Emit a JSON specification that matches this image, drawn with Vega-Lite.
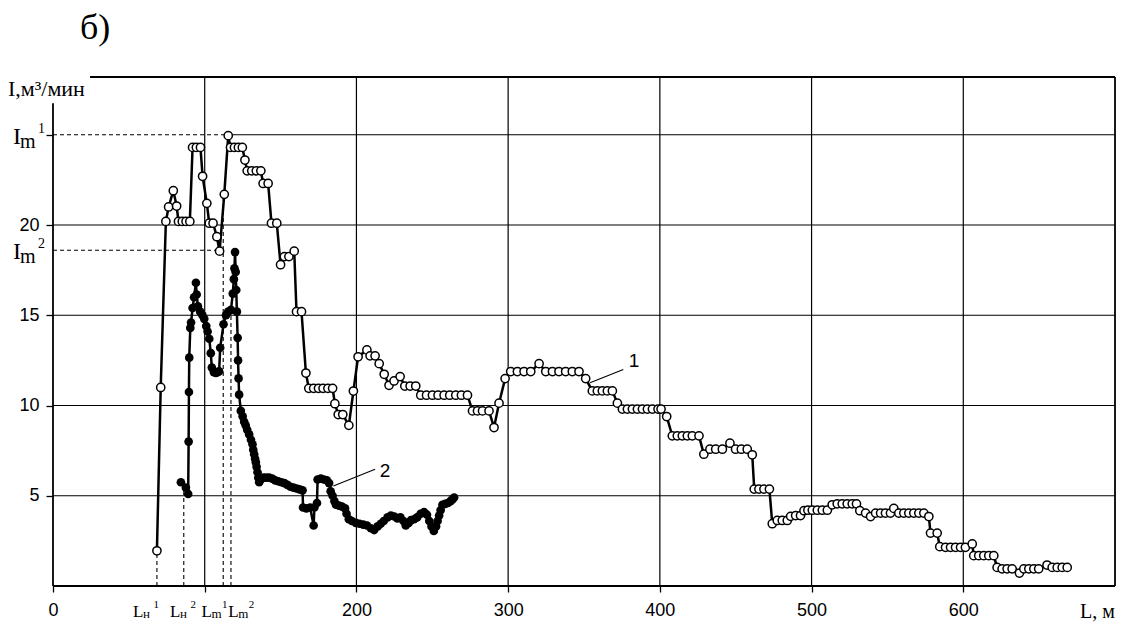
{
  "$schema": "https://vega.github.io/schema/vega-lite/v6.json",
  "width": 1062,
  "height": 509,
  "autosize": "none",
  "padding": {"left": 53, "top": 77, "right": 7, "bottom": 41},
  "background": "white",
  "config": {"view": {"stroke": null}, "font": "Liberation Sans"},
  "datasets": {
    "curve1": [
      {"L":68.5,"I":1.95},{"L":71,"I":11.0},{"L":74.4,"I":20.2},{"L":76.2,"I":21.0},{"L":79.3,"I":21.9},{"L":81.5,"I":21.05},{"L":82.7,"I":20.2},{"L":85.2,"I":20.2},{"L":87.7,"I":20.2},{"L":90.2,"I":20.2},
      {"L":92,"I":24.3},{"L":94.5,"I":24.3},{"L":97.2,"I":24.3},{"L":98.6,"I":22.7},{"L":101.4,"I":21.2},{"L":103,"I":20.1},{"L":105.5,"I":20.1},{"L":108,"I":19.35},{"L":109.8,"I":18.55},{"L":112.9,"I":21.7},
      {"L":115.5,"I":24.95},{"L":117,"I":24.3},{"L":119.6,"I":24.3},{"L":122.2,"I":24.3},{"L":124.8,"I":24.3},{"L":126.5,"I":23.6},{"L":128,"I":23.0},{"L":131,"I":23.0},{"L":134,"I":23.0},{"L":137,"I":23.0},
      {"L":138.5,"I":22.3},{"L":141.8,"I":22.3},{"L":144,"I":20.1},{"L":147.5,"I":20.1},{"L":150,"I":17.8},{"L":152.5,"I":18.25},{"L":155.5,"I":18.25},{"L":159,"I":18.55},{"L":160.5,"I":15.2},{"L":163.8,"I":15.2},
      {"L":166.7,"I":11.8},{"L":168.6,"I":10.95},{"L":171.8,"I":10.95},{"L":175,"I":10.95},{"L":178,"I":10.95},{"L":181.2,"I":10.95},{"L":184.3,"I":10.95},{"L":185.8,"I":10.1},{"L":188,"I":9.5},{"L":191,"I":9.5},
      {"L":195,"I":8.9},{"L":198,"I":10.8},{"L":201.1,"I":12.7},{"L":206.9,"I":13.08},{"L":209,"I":12.75},{"L":212.3,"I":12.75},{"L":215,"I":12.32},{"L":218.3,"I":11.73},{"L":221.5,"I":11.12},{"L":224.8,"I":11.36},
      {"L":228.8,"I":11.6},{"L":231.9,"I":11.08},{"L":235.4,"I":11.08},{"L":239.1,"I":11.08},{"L":242.4,"I":10.57},{"L":246.2,"I":10.57},{"L":250.1,"I":10.57},{"L":253.8,"I":10.57},{"L":257.8,"I":10.57},{"L":261.5,"I":10.57},
      {"L":265.5,"I":10.57},{"L":269.2,"I":10.57},{"L":273.2,"I":10.57},{"L":276.5,"I":9.7},{"L":279.8,"I":9.7},{"L":283.1,"I":9.7},{"L":287.4,"I":9.7},{"L":290.7,"I":8.78},{"L":294,"I":10.13},{"L":298,"I":11.49},
      {"L":301.7,"I":11.88},{"L":306.1,"I":11.88},{"L":310.5,"I":11.88},{"L":314.9,"I":11.88},{"L":320.4,"I":12.32},{"L":324.8,"I":11.88},{"L":329.2,"I":11.88},{"L":333.5,"I":11.88},{"L":337.9,"I":11.88},{"L":342.3,"I":11.88},
      {"L":346.7,"I":11.88},{"L":351.1,"I":11.49},{"L":355.5,"I":10.81},{"L":358.8,"I":10.81},{"L":362.1,"I":10.81},{"L":365.4,"I":10.81},{"L":368.7,"I":10.81},{"L":372,"I":10.13},{"L":375.3,"I":9.8},{"L":378.6,"I":9.8},
      {"L":381.9,"I":9.8},{"L":385.2,"I":9.8},{"L":388.5,"I":9.8},{"L":391.8,"I":9.8},{"L":395.1,"I":9.8},{"L":398.8,"I":9.8},{"L":400.8,"I":9.8},{"L":404.5,"I":9.39},{"L":408.2,"I":8.32},{"L":411.5,"I":8.32},
      {"L":414.8,"I":8.32},{"L":418.1,"I":8.32},{"L":421.4,"I":8.32},{"L":425.8,"I":8.32},{"L":429,"I":7.3},{"L":433,"I":7.58},{"L":436.8,"I":7.58},{"L":441.2,"I":7.58},{"L":446.2,"I":7.91},{"L":449.9,"I":7.58},
      {"L":453.7,"I":7.58},{"L":457.6,"I":7.58},{"L":460.9,"I":7.27},{"L":462.2,"I":5.37},{"L":465.3,"I":5.37},{"L":468.6,"I":5.37},{"L":472.2,"I":5.37},{"L":474.1,"I":3.45},{"L":477.4,"I":3.63},{"L":480.7,"I":3.63},
      {"L":484,"I":3.63},{"L":486.2,"I":3.86},{"L":489.5,"I":3.9},{"L":492.7,"I":3.9},{"L":495,"I":4.17},{"L":497.6,"I":4.2},{"L":500.5,"I":4.2},{"L":503.8,"I":4.2},{"L":507.1,"I":4.2},{"L":510.4,"I":4.2},
      {"L":513.6,"I":4.5},{"L":516.9,"I":4.55},{"L":520.2,"I":4.55},{"L":523.5,"I":4.55},{"L":526.8,"I":4.55},{"L":529.6,"I":4.55},{"L":531.8,"I":4.17},{"L":535.6,"I":4.04},{"L":538.9,"I":3.85},{"L":542.2,"I":4.04},
      {"L":545.5,"I":4.04},{"L":548.7,"I":4.04},{"L":552,"I":4.04},{"L":554.2,"I":4.3},{"L":557.5,"I":4.04},{"L":560.8,"I":4.04},{"L":564.1,"I":4.04},{"L":567.4,"I":4.04},{"L":570.7,"I":4.04},{"L":574,"I":4.04},
      {"L":577.3,"I":3.85},{"L":578.4,"I":2.93},{"L":582.8,"I":2.93},{"L":584.5,"I":2.18},{"L":588.3,"I":2.14},{"L":591.6,"I":2.14},{"L":594.9,"I":2.14},{"L":598.2,"I":2.14},{"L":601.4,"I":2.14},{"L":605.9,"I":2.33},
      {"L":606.9,"I":1.68},{"L":610.2,"I":1.68},{"L":613.5,"I":1.68},{"L":616.8,"I":1.68},{"L":620.1,"I":1.68},{"L":622.3,"I":1.03},{"L":625.6,"I":0.95},{"L":628.9,"I":0.95},{"L":632.2,"I":0.95},{"L":637,"I":0.72},
      {"L":639.9,"I":0.95},{"L":643.2,"I":0.95},{"L":646.5,"I":0.95},{"L":649.7,"I":0.95},{"L":655.2,"I":1.16},{"L":658.6,"I":1.03},{"L":661.9,"I":1.03},{"L":665.2,"I":1.03},{"L":668.5,"I":1.03}
    ],
    "curve2": [
      {"L":84.3,"I":5.75},{"L":87.6,"I":5.45},{"L":89.1,"I":5.1},{"L":89.4,"I":8.0},{"L":89.6,"I":10.75},{"L":89.8,"I":12.65},{"L":90.5,"I":14.3},{"L":91,"I":14.6},{"L":92,"I":15.4},{"L":93,"I":16.0},
      {"L":94.2,"I":16.8},{"L":94.7,"I":16.15},{"L":95.5,"I":15.5},{"L":97,"I":15.2},{"L":98.5,"I":15.0},{"L":99.7,"I":14.8},{"L":101,"I":14.4},{"L":101.9,"I":14.1},{"L":103,"I":13.7},{"L":104,"I":12.9},
      {"L":104.7,"I":12.1},{"L":106,"I":11.85},{"L":107.4,"I":11.8},{"L":108.5,"I":11.85},{"L":109.5,"I":11.9},{"L":110.2,"I":13.2},{"L":112.4,"I":14.5},{"L":114,"I":15.0},{"L":115.5,"I":15.2},{"L":117.3,"I":15.3},
      {"L":118.5,"I":16.2},{"L":119.2,"I":17.0},{"L":119.6,"I":17.6},{"L":120,"I":18.5},{"L":120.4,"I":17.4},{"L":120.8,"I":16.4},{"L":121.2,"I":15.2},{"L":121.7,"I":13.75},{"L":122,"I":12.5},{"L":122.3,"I":11.5},
      {"L":122.7,"I":10.6},{"L":123.8,"I":9.7},{"L":125,"I":9.4},{"L":126,"I":9.1},{"L":127,"I":8.9},{"L":128,"I":8.65},{"L":129.3,"I":8.4},{"L":130.5,"I":8.1},{"L":131.5,"I":7.85},{"L":132,"I":7.55},
      {"L":132.6,"I":7.3},{"L":133.2,"I":7.05},{"L":133.7,"I":6.85},{"L":134.2,"I":6.6},{"L":134.8,"I":6.3},{"L":135.3,"I":6.0},{"L":135.9,"I":5.75},{"L":137,"I":5.9},{"L":138.5,"I":6.0},{"L":140.5,"I":6.0},
      {"L":142.5,"I":6.0},{"L":144.5,"I":5.95},{"L":146.5,"I":5.85},{"L":148.5,"I":5.8},{"L":150.5,"I":5.75},{"L":152.5,"I":5.7},{"L":154.5,"I":5.6},{"L":156.5,"I":5.5},{"L":158.5,"I":5.45},{"L":160.5,"I":5.4},
      {"L":162.5,"I":5.35},{"L":164.5,"I":5.3},{"L":164.8,"I":4.35},{"L":167,"I":4.3},{"L":169.5,"I":4.35},{"L":171.8,"I":3.35},{"L":172.3,"I":4.35},{"L":174,"I":4.6},{"L":174.4,"I":5.9},{"L":176.5,"I":5.95},
      {"L":178.5,"I":5.9},{"L":180.5,"I":5.85},{"L":182,"I":5.7},{"L":183,"I":5.25},{"L":184.3,"I":5.0},{"L":185.5,"I":4.7},{"L":186.5,"I":4.5},{"L":188.5,"I":4.45},{"L":190.5,"I":4.4},{"L":192.5,"I":4.3},
      {"L":193.5,"I":4.0},{"L":195,"I":3.7},{"L":197,"I":3.6},{"L":199.6,"I":3.5},{"L":202,"I":3.45},{"L":204.5,"I":3.4},{"L":207,"I":3.35},{"L":209.5,"I":3.2},{"L":211.7,"I":3.1},{"L":214,"I":3.3},
      {"L":216,"I":3.45},{"L":218,"I":3.6},{"L":220.5,"I":3.8},{"L":222.7,"I":3.9},{"L":225,"I":3.85},{"L":227,"I":3.75},{"L":229,"I":3.8},{"L":231,"I":3.6},{"L":232.5,"I":3.35},{"L":234.5,"I":3.5},
      {"L":236,"I":3.65},{"L":238,"I":3.7},{"L":240,"I":3.8},{"L":242.3,"I":4.0},{"L":244.6,"I":4.1},{"L":246.5,"I":3.95},{"L":248,"I":3.6},{"L":249.5,"I":3.3},{"L":251,"I":3.05},{"L":252.5,"I":3.3},
      {"L":253.5,"I":3.6},{"L":254.5,"I":3.9},{"L":255.5,"I":4.2},{"L":256.7,"I":4.5},{"L":258.5,"I":4.55},{"L":260.3,"I":4.6},{"L":262,"I":4.7},{"L":263.3,"I":4.8},{"L":264.4,"I":4.9}
    ],
    "grid": [
      {"L":100,"I":0,"L2":100,"I2":28.2},{"L":200,"I":0,"L2":200,"I2":28.2},{"L":300,"I":0,"L2":300,"I2":28.2},{"L":400,"I":0,"L2":400,"I2":28.2},{"L":500,"I":0,"L2":500,"I2":28.2},{"L":600,"I":0,"L2":600,"I2":28.2},
      {"L":0,"I":5,"L2":700,"I2":5},{"L":0,"I":10,"L2":700,"I2":10},{"L":0,"I":15,"L2":700,"I2":15},{"L":0,"I":20,"L2":700,"I2":20},{"L":115.5,"I":25,"L2":700,"I2":25}
    ],
    "frame": [
      {"L":0,"I":0,"L2":700,"I2":0},{"L":0,"I":0,"L2":0,"I2":26.75},{"L":24.4,"I":28.2,"L2":700,"I2":28.2},{"L":700,"I":0,"L2":700,"I2":28.2}
    ],
    "drops": [
      {"L":0,"I":25,"L2":115.5,"I2":25},{"L":0,"I":18.6,"L2":109.8,"I2":18.6},{"L":68.5,"I":0,"L2":68.5,"I2":1.95},{"L":86.2,"I":0,"L2":86.2,"I2":5.5},{"L":112.2,"I":0,"L2":112.2,"I2":21.6},{"L":117.3,"I":0,"L2":117.3,"I2":15.3}
    ],
    "leaders": [
      {"L":354,"I":11.26,"L2":375.9,"I2":12.0},{"L":184.8,"I":5.54,"L2":212.3,"I2":6.47}
    ],
    "ilabels": [{"L":-26.4,"I":25,"s":"1"},{"L":-26.4,"I":18.6,"s":"2"}],
    "llabels": [{"L":52.7,"I":-1.72,"sub":"н","s":"1"},{"L":77.1,"I":-1.72,"sub":"н","s":"2"},{"L":97.8,"I":-1.72,"sub":"m","s":"1"},{"L":115.5,"I":-1.72,"sub":"m","s":"2"}],
    "curvenames": [{"L":383,"I":12.13,"t":"1"},{"L":218.9,"I":6.04,"t":"2"}],
    "ytitle": [{"L":-29.7,"I":27.15,"t":"I,м³/мин"}],
    "xtitle": [{"L":677,"I":-1.77,"t":"L, м"}],
    "panel": [{"L":17.8,"I":30.3,"t":"б)"}]
  },
  "encoding": {
    "x": {"field": "L", "type": "quantitative",
      "scale": {"domain": [0, 700], "nice": false, "zero": false},
      "axis": {"title": null, "values": [0,100,200,300,400,500,600], "labelExpr": "datum.value == 100 ? '' : datum.label",
        "grid": false, "domain": false, "tickSize": 6, "tickColor": "black", "tickWidth": 1.3,
        "labelFont": "Liberation Sans", "labelFontSize": 18, "labelColor": "black", "labelPadding": 9, "labelFlush": false, "labelOverlap": false}},
    "y": {"field": "I", "type": "quantitative",
      "scale": {"domain": [0, 28.2], "nice": false, "zero": false},
      "axis": {"title": null, "values": [5,10,15,20,25], "labelExpr": "datum.value == 25 ? '' : datum.label",
        "grid": false, "domain": false, "tickSize": 7, "tickColor": "black", "tickWidth": 1.3,
        "labelFont": "Liberation Sans", "labelFontSize": 18, "labelColor": "black", "labelPadding": 7, "labelOverlap": false}}
  },
  "layer": [
    {"data": {"name": "grid"}, "mark": {"type": "rule", "color": "black", "strokeWidth": 1.2},
     "encoding": {"x2": {"field": "L2"}, "y2": {"field": "I2"}}},
    {"data": {"name": "frame"}, "mark": {"type": "rule", "color": "black", "strokeWidth": 1.8},
     "encoding": {"x2": {"field": "L2"}, "y2": {"field": "I2"}}},
    {"data": {"name": "drops"}, "mark": {"type": "rule", "color": "black", "strokeWidth": 1.1, "strokeDash": [4, 3]},
     "encoding": {"x2": {"field": "L2"}, "y2": {"field": "I2"}}},
    {"data": {"name": "leaders"}, "mark": {"type": "rule", "color": "black", "strokeWidth": 1.1},
     "encoding": {"x2": {"field": "L2"}, "y2": {"field": "I2"}}},
    {"data": {"name": "curve2"}, "mark": {"type": "line", "color": "black", "strokeWidth": 2.5}},
    {"data": {"name": "curve2"}, "mark": {"type": "point", "shape": "circle", "filled": true, "fill": "black", "color": "black", "size": 75, "opacity": 1}},
    {"data": {"name": "curve1"}, "mark": {"type": "line", "color": "black", "strokeWidth": 2.5}},
    {"data": {"name": "curve1"}, "mark": {"type": "point", "shape": "circle", "filled": false, "fill": "white", "fillOpacity": 1, "stroke": "black", "strokeWidth": 1.5, "size": 68, "opacity": 1}},
    {"data": {"name": "curvenames"}, "mark": {"type": "text", "font": "Liberation Sans", "fontSize": 19, "align": "center", "baseline": "alphabetic", "color": "black"},
     "encoding": {"text": {"field": "t"}}},
    {"data": {"name": "ilabels"}, "mark": {"type": "text", "font": "Liberation Serif", "fontSize": 24, "align": "left", "baseline": "alphabetic", "dy": 9, "color": "black"},
     "encoding": {"text": {"value": "I"}}},
    {"data": {"name": "ilabels"}, "mark": {"type": "text", "font": "Liberation Serif", "fontSize": 20, "align": "left", "baseline": "alphabetic", "dx": 7, "dy": 13, "color": "black"},
     "encoding": {"text": {"value": "m"}}},
    {"data": {"name": "ilabels"}, "mark": {"type": "text", "font": "Liberation Serif", "fontSize": 14, "align": "left", "baseline": "alphabetic", "dx": 25, "dy": -2, "color": "black"},
     "encoding": {"text": {"field": "s"}}},
    {"data": {"name": "llabels"}, "mark": {"type": "text", "font": "Liberation Serif", "fontSize": 17, "align": "left", "baseline": "alphabetic", "color": "black"},
     "encoding": {"text": {"value": "L"}}},
    {"data": {"name": "llabels"}, "mark": {"type": "text", "font": "Liberation Serif", "fontSize": 13, "align": "left", "baseline": "alphabetic", "dx": 10, "dy": 1, "color": "black"},
     "encoding": {"text": {"field": "sub"}}},
    {"data": {"name": "llabels"}, "mark": {"type": "text", "font": "Liberation Serif", "fontSize": 11, "align": "left", "baseline": "alphabetic", "dx": 20.5, "dy": -9, "color": "black"},
     "encoding": {"text": {"field": "s"}}},
    {"data": {"name": "ytitle"}, "mark": {"type": "text", "font": "Liberation Serif", "fontSize": 22, "align": "left", "baseline": "alphabetic", "color": "black"},
     "encoding": {"text": {"field": "t"}}},
    {"data": {"name": "xtitle"}, "mark": {"type": "text", "font": "Liberation Serif", "fontSize": 20, "align": "left", "baseline": "alphabetic", "color": "black"},
     "encoding": {"text": {"field": "t"}}},
    {"data": {"name": "panel"}, "mark": {"type": "text", "font": "Liberation Serif", "fontSize": 36, "align": "left", "baseline": "alphabetic", "color": "black"},
     "encoding": {"text": {"field": "t"}}}
  ]
}
